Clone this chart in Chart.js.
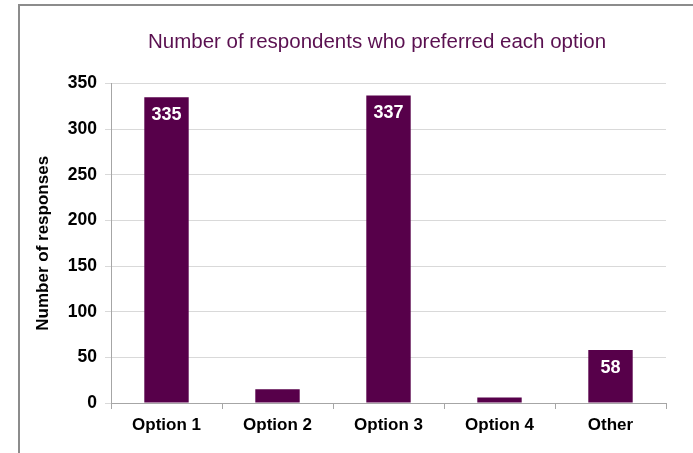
<!DOCTYPE html>
<html>
<head>
<meta charset="utf-8">
<script src="https://cdn.jsdelivr.net/npm/chart.js@4/dist/chart.umd.min.js"></script>
<style>
  html, body { margin: 0; padding: 0; background: #fff; }
  #wrap { position: relative; width: 693px; height: 453px; overflow: hidden; }
  #frame {
    position: absolute; left: 18px; top: 4px; width: 800px; height: 600px;
    border-left: 2px solid #8c8c8c; border-top: 2px solid #8c8c8c;
  }
  #chart { position: absolute; left: 0; top: 0; }
</style>
</head>
<body>
<div id="wrap">
  <div id="frame"></div>
  <canvas id="chart" width="693" height="453"></canvas>
</div>
<script>
const categories = ['Option 1', 'Option 2', 'Option 3', 'Option 4', 'Other'];
const responses = [335, 15, 337, 6, 58];
const yTicks = [0, 50, 100, 150, 200, 250, 300, 350];

const purple = '#57004a';
const gridGrey = '#d9d9d9';
const axisGrey = '#a6a6a6';
const fontFamily = '"Liberation Sans", Arial, sans-serif';

// white value labels inside the taller bars
const barLabels = {
  id: 'barLabels',
  afterDatasetsDraw(chart) {
    const ctx = chart.ctx;
    const meta = chart.getDatasetMeta(0);
    ctx.save();
    ctx.fillStyle = '#ffffff';
    ctx.font = 'bold 18px ' + fontFamily;
    ctx.textAlign = 'center';
    ctx.textBaseline = 'middle';
    meta.data.forEach((bar, i) => {
      const v = responses[i];
      if (v < 40) return;
      ctx.fillText(String(v), bar.x, bar.y + 18);
    });
    ctx.restore();
  }
};

// the title sits over the plot area, not the whole canvas
const titleOverPlot = {
  id: 'titleOverPlot',
  afterLayout(chart) {
    if (chart.titleBlock) {
      chart.titleBlock.left = 88;
      chart.titleBlock.right = chart.chartArea.right;
    }
  }
};

new Chart(document.getElementById('chart'), {
  type: 'bar',
  data: {
    labels: categories,
    datasets: [{
      data: responses,
      backgroundColor: purple,
      borderWidth: 0,
      categoryPercentage: 1,
      barPercentage: 0.4
    }]
  },
  options: {
    responsive: false,
    animation: false,
    devicePixelRatio: 1,
    layout: { padding: { left: 20, right: 27, top: 0, bottom: 0 } },
    plugins: {
      legend: { display: false },
      tooltip: { enabled: false },
      title: {
        display: true,
        text: 'Number of respondents who preferred each option',
        color: '#5a1050',
        font: { family: fontFamily, size: 20.5, weight: 'normal', lineHeight: 1.2 },
        padding: { top: 30, bottom: 29 }
      }
    },
    scales: {
      x: {
        grid: { drawOnChartArea: false, drawTicks: true, tickLength: 6, color: axisGrey },
        border: { display: true, color: axisGrey, width: 1 },
        ticks: {
          color: '#000',
          padding: 6,
          font: { family: fontFamily, size: 17, weight: 'bold' }
        },
        afterFit(scale) { scale.height = 50; }
      },
      y: {
        min: 0,
        max: 350,
        afterBuildTicks(scale) { scale.ticks = yTicks.map(v => ({ value: v })); },
        grid: { color: gridGrey, tickLength: 6, drawTicks: true },
        border: { display: true, color: axisGrey, width: 1 },
        ticks: {
          color: '#000',
          padding: 8,
          font: { family: fontFamily, size: 17.5, weight: 'bold' }
        },
        title: {
          display: true,
          text: 'Number of responses',
          color: '#000',
          padding: { top: 13, bottom: 0 },
          font: { family: fontFamily, size: 17, weight: 'bold', lineHeight: 1.2 }
        },
        afterFit(scale) { scale.width = 91; }
      }
    }
  },
  plugins: [barLabels, titleOverPlot]
});
</script>
</body>
</html>
